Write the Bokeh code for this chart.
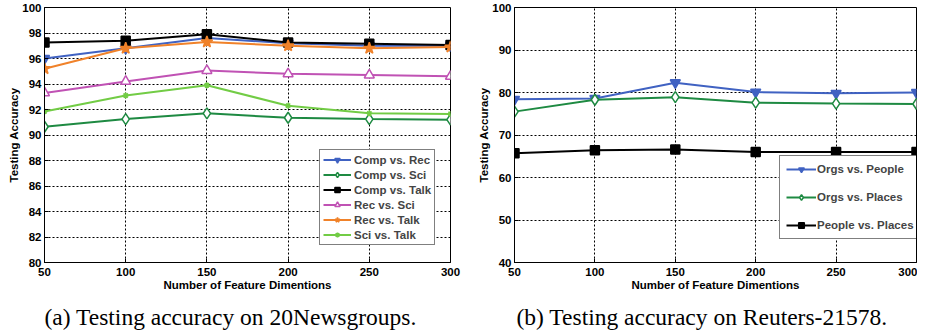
from bokeh.plotting import figure
from bokeh.layouts import row
from bokeh.models import Legend, LegendItem, Title, FixedTicker
from bokeh.embed import file_html
from bokeh.resources import INLINE

dims = [50, 100, 150, 200, 250, 300]

# (a) 20Newsgroups
comp_rec = [96.0, 96.8, 97.6, 97.2, 97.0, 97.0]
comp_sci = [90.65, 91.25, 91.7, 91.35, 91.25, 91.2]
comp_talk = [97.25, 97.4, 97.9, 97.25, 97.15, 97.05]
rec_sci = [93.3, 94.2, 95.05, 94.8, 94.7, 94.6]
rec_talk = [95.2, 96.8, 97.3, 97.0, 96.8, 96.9]
sci_talk = [91.85, 93.1, 93.9, 92.3, 91.7, 91.65]
names_a = ["Comp vs. Rec", "Comp vs. Sci", "Comp vs. Talk", "Rec vs. Sci", "Rec vs. Talk", "Sci vs. Talk"]
yticks_a = [80, 82, 84, 86, 88, 90, 92, 94, 96, 98, 100]

# (b) Reuters-21578
orgs_people = [78.4, 78.6, 82.3, 80.1, 79.8, 80.0]
orgs_places = [75.5, 78.3, 78.9, 77.6, 77.4, 77.3]
people_places = [65.7, 66.4, 66.6, 66.0, 66.0, 66.0]
names_b = ["Orgs vs. People", "Orgs vs. Places", "People vs. Places"]
yticks_b = [40, 50, 60, 70, 80, 90, 100]

caption_a = "(a) Testing accuracy on 20Newsgroups."
caption_b = "(b) Testing accuracy on Reuters-21578."

BLUE = "#4062c2"
GREEN = "#1e8a42"
BLACK = "#000000"
MAGENTA = "#c052b4"
ORANGE = "#f0822a"
LGREEN = "#72cc45"

FONT = "Liberation Sans"


def make_fig(yr, yticks, left_border, frame_w, right_border, caption, cap_offset):
    p = figure(width=left_border + frame_w + right_border, height=330,
               frame_width=frame_w, frame_height=255,
               min_border_left=left_border, min_border_right=right_border,
               min_border_top=7, min_border_bottom=68,
               x_range=(50, 300), y_range=yr,
               output_backend="svg", toolbar_location=None)
    p.xaxis.ticker = FixedTicker(ticks=dims)
    p.yaxis.ticker = FixedTicker(ticks=yticks)
    for ax in (p.xaxis, p.yaxis):
        ax.major_tick_in = 4
        ax.major_tick_out = 0
        ax.minor_tick_line_color = None
        ax.axis_line_color = "black"
        ax.major_tick_line_color = "black"
        ax.major_label_text_font = FONT
        ax.major_label_text_font_style = "bold"
        ax.major_label_text_font_size = "11.5px"
        ax.major_label_text_color = "black"
        ax.axis_label_text_font = FONT
        ax.axis_label_text_font_style = "bold"
        ax.axis_label_text_font_size = "11.5px"
        ax.axis_label_text_color = "black"
    p.xaxis.axis_label = "Number of Feature Dimentions"
    p.yaxis.axis_label = "Testing Accuracy"
    p.xaxis.major_label_standoff = 5
    p.yaxis.major_label_standoff = 3
    p.xaxis.axis_label_standoff = 0
    p.yaxis.axis_label_standoff = -1
    p.grid.grid_line_color = "black"
    p.grid.grid_line_dash = "2 2"
    p.grid.grid_line_width = 1
    p.outline_line_color = "black"
    p.outline_line_width = 1
    p.background_fill_color = "white"
    p.border_fill_color = "white"
    t = Title(text=caption, align="left", offset=cap_offset, standoff=17,
              text_font="Liberation Serif", text_font_size="23.5px",
              text_font_style="normal", text_color="black")
    p.add_layout(t, "below")
    return p


def series(p, ys, color, marker, size, fill, name):
    r = p.line(dims, ys, line_color=color, line_width=2)
    s = p.scatter(dims, ys, marker=marker, size=size, line_color=color,
                  fill_color=fill, line_width=1.5)
    return LegendItem(label=name, renderers=[r, s])


p1 = make_fig((80, 100), yticks_a, 44, 406, 14, caption_a, 0)
items_a = [
    series(p1, comp_rec, BLUE, "inverted_triangle", 10, BLUE, names_a[0]),
    series(p1, comp_sci, GREEN, "diamond", 11, "white", names_a[1]),
    series(p1, comp_talk, BLACK, "square", 9, BLACK, names_a[2]),
    series(p1, rec_sci, MAGENTA, "triangle", 10, "white", names_a[3]),
    series(p1, rec_talk, ORANGE, "star", 12, ORANGE, names_a[4]),
    series(p1, sci_talk, LGREEN, "asterisk", 6, LGREEN, names_a[5]),
]
leg1 = Legend(items=items_a, location=(275, 17), border_line_color="black",
              border_line_width=1, label_text_font=FONT, label_text_font_style="bold",
              label_text_font_size="11.5px", glyph_width=28, glyph_height=13,
              label_height=13, spacing=2, padding=3, margin=0,
              label_standoff=3, background_fill_alpha=1)
p1.add_layout(leg1)

p2 = make_fig((40, 100), yticks_b, 50, 402, 1, caption_b, 2)
items_b = [
    series(p2, orgs_people, BLUE, "inverted_triangle", 10, BLUE, names_b[0]),
    series(p2, orgs_places, GREEN, "diamond", 11, "white", names_b[1]),
    series(p2, people_places, BLACK, "square", 9, BLACK, names_b[2]),
]
leg2 = Legend(items=items_b, location=(265, 23), border_line_color="black",
              border_line_width=1, label_text_font=FONT, label_text_font_style="bold",
              label_text_font_size="11.5px", glyph_width=30, glyph_height=14,
              label_height=14, spacing=14, padding=6, margin=0,
              label_standoff=1, background_fill_alpha=1)
p2.add_layout(leg2)

layout = row(p1, p2, spacing=0)
open("out.html", "w").write(file_html(layout, INLINE))
